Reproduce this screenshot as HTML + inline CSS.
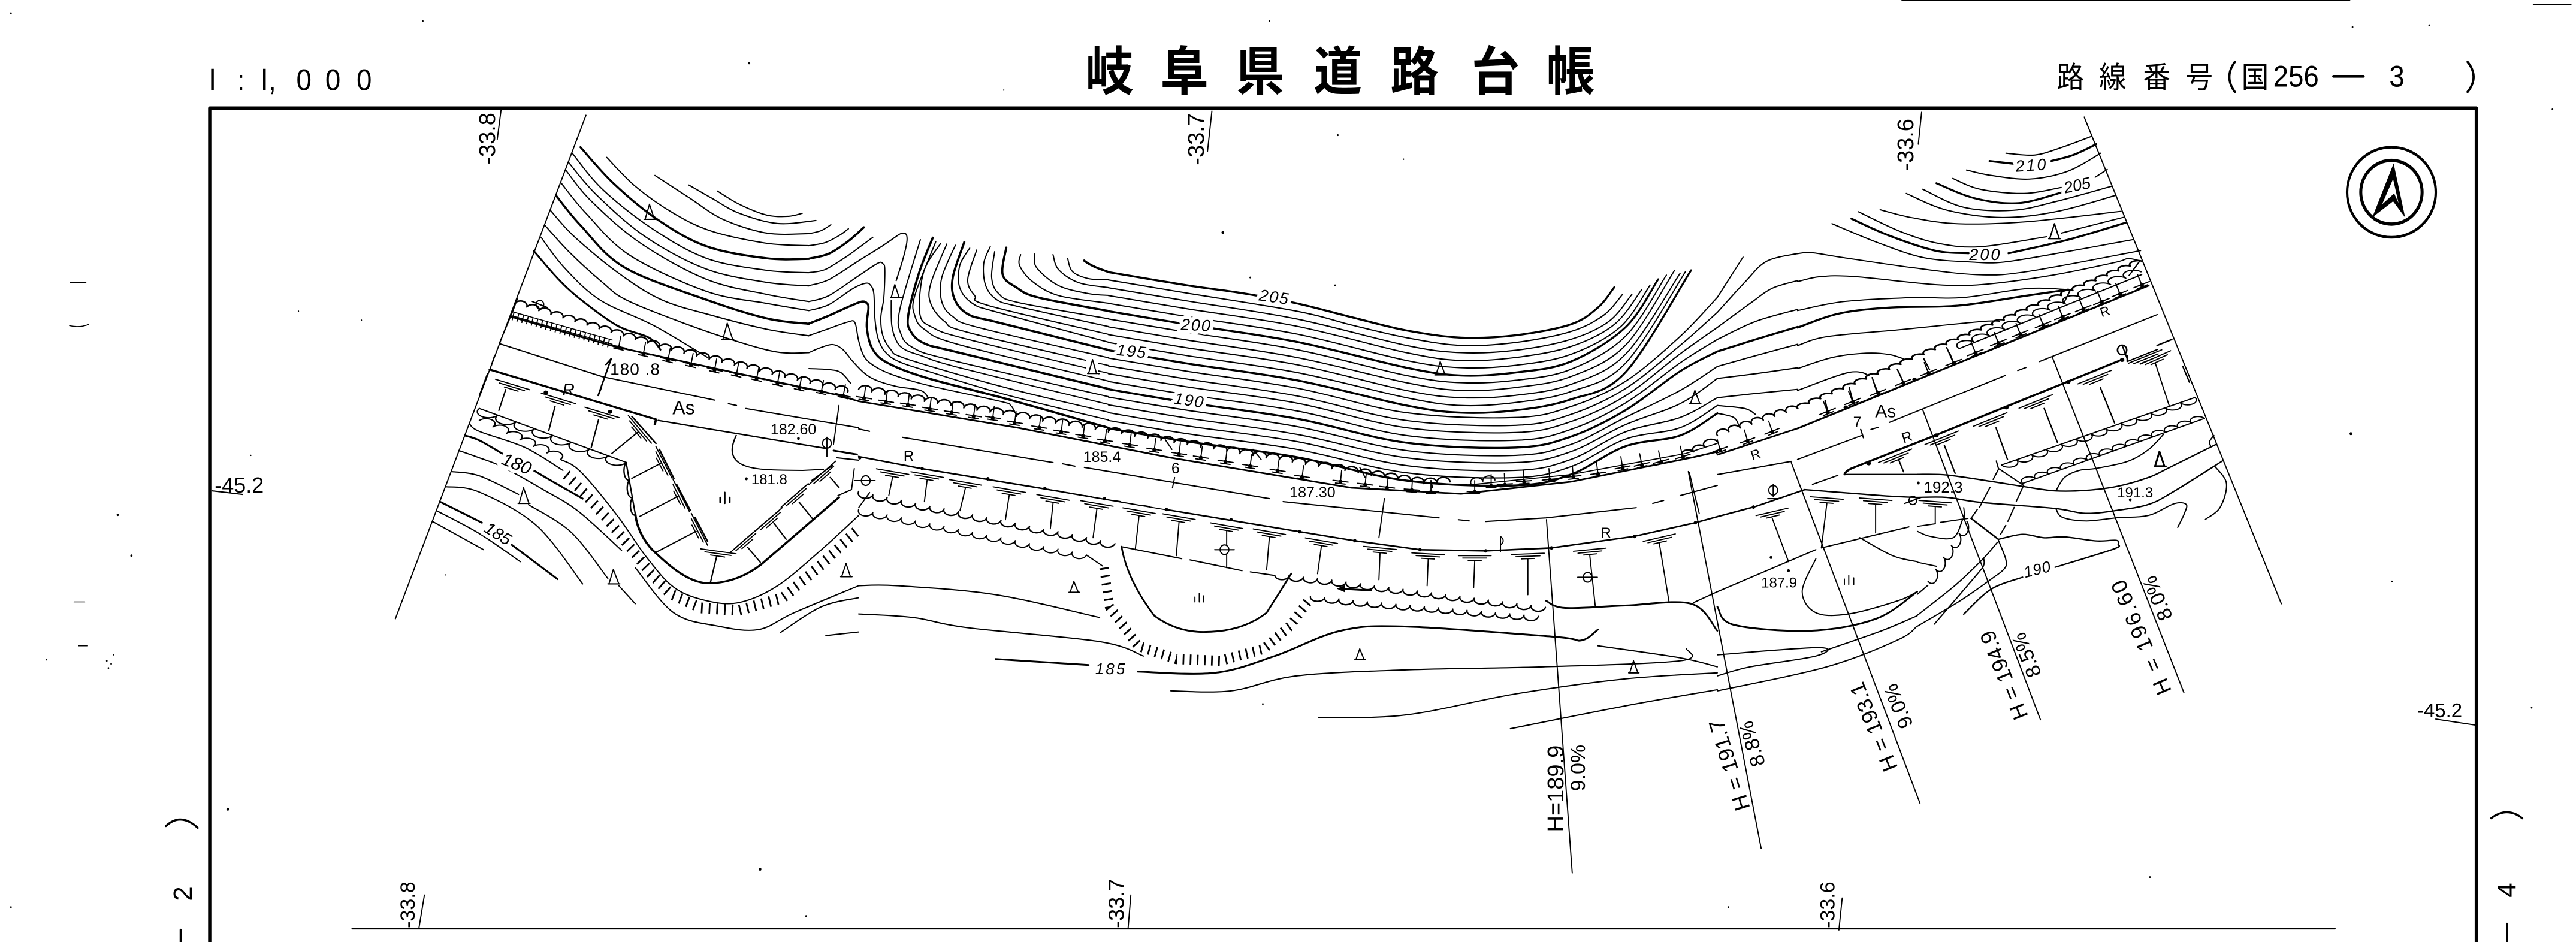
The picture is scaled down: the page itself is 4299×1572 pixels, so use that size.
<!DOCTYPE html>
<html><head><meta charset="utf-8"><style>
html,body{margin:0;padding:0;background:#fff;width:4299px;height:1572px;overflow:hidden}
svg{display:block}
text{font-family:"Liberation Sans","Noto Sans CJK JP",sans-serif;fill:#000;stroke:none}
.l{paint-order:stroke;stroke:#fff;stroke-width:12px;font-style:italic}
.f{stroke:none;fill:#000}
</style></head><body>
<svg xmlns="http://www.w3.org/2000/svg" width="4299" height="1572" viewBox="0 0 4299 1572">
<rect width="4299" height="1572" fill="#fff"/>
<defs>
<g id="t" fill="none" stroke="#000" stroke-width="1.9"><path d="M-30 0H30M-22 4H22M-12 8H12"/></g>
<g id="u" fill="none" stroke="#000" stroke-width="2"><path d="M0 -18V0M-14 0H14M-9 4H9"/><circle cx="0" cy="1" r="2.5" fill="#000"/></g>
</defs>
<g transform="scale(.9139,1.0025)" fill="none" stroke="#000" stroke-width="2.1" stroke-linejoin="round" stroke-linecap="round">

<!-- frame -->
<path d="M383 1575V180H4522V1575" stroke-width="6" stroke-linecap="butt"/>
<path d="M643 1546H4264" stroke-width="2.5"/>
<path d="M3473 1H4291M4626 8H4695" stroke-width="2"/>

<!-- ========== PANEL 1 ========== -->
<g>
<text x="388" y="150" font-size="52" text-anchor="middle">I</text>
<text x="440" y="150" font-size="48" text-anchor="middle">:</text>
<text x="490" y="150" font-size="52" text-anchor="middle">I,</text>
<text x="555" y="150" font-size="50" text-anchor="middle">0</text>
<text x="608" y="150" font-size="50" text-anchor="middle">0</text>
<text x="665" y="150" font-size="50" text-anchor="middle">0</text>

<path d="M915 183L908 232M387 817L443 823M775 1490L765 1545"/>
<text transform="translate(904,274) scale(1.094,.9975) rotate(-90)" font-size="38">-33.8</text>
<text transform="translate(757,1545) scale(1.094,.9975) rotate(-90)" font-size="34">-33.8</text>
<text transform="translate(392,820) scale(1.094,.9975)" font-size="36">-45.2</text>

<path d="M303 1375Q330 1352 361 1378" stroke-width="3.5"/>
<text transform="translate(350,1500) scale(1.094,.9975) rotate(-90)" font-size="44">2</text>
<path d="M330 1548V1575" stroke-width="4"/>
<path d="M128 470H157M127 542Q145 546 162 540M135 1002H155M143 1075H160" stroke-width="1.6"/>

<!-- boundary -->
<path d="M1070 192L722 1030"/>

<!-- upper-left hill contours -->
<g class="s">
<path d="M1310 318L1350 340 1400 358 1440 360 1465 355"/>
<path d="M1258 308L1300 330 1350 355 1420 372 1490 367"/>
<path d="M1196 292L1260 330 1320 365 1400 388 1477 389"/>
<path d="M1108 262L1160 310 1230 355 1300 385 1400 405 1477 409"/>
<path d="M1060 245L1120 305 1200 365 1290 410 1400 430 1477 431" stroke-width="3.6"/>
<path d="M1045 255L1100 315 1190 380 1290 430 1400 450 1477 454"/>
<path d="M1038 270L1090 325 1180 395 1290 448 1400 470 1477 476"/>
<path d="M1033 283L1080 335 1170 405 1290 465 1400 490 1477 502"/>
<path d="M1025 305L1070 355 1150 425 1290 485 1400 505 1477 517"/>
<path d="M1015 325L1060 375 1140 445 1290 499 1400 530 1477 539" stroke-width="3.6"/>
<path d="M1005 350L1050 395 1130 455 1208 499 1300 525 1400 548 1477 559"/>
<path d="M995 375L1040 420 1100 470 1143 499 1240 535 1338 566 1419 586 1477 587"/>
<path d="M988 395L1030 445 1095 499 1194 542 1294 596"/>
<path d="M975 418L1020 465 1061 499 1127 542 1185 562 1206 582" stroke-width="3.2"/>

<!-- lower-left contours -->
<path d="M857 705L875 718 959 745 1028 783"/>
<path d="M849 725L875 733 917 755M965 778L1010 802 1064 830" stroke-width="3.2"/>
<path d="M838 750L875 762 917 777 992 815 1056 851 1135 916"/>
<path d="M824 785L875 792 947 823M965 840L1043 886 1110 963M1130 975L1160 1005"/>
<path d="M813 810L875 819 980 875 1064 972"/>
<path d="M803 835L880 870M917 895L1018 964" stroke-width="3.2"/>
<path d="M797 850L875 888 950 935"/>
<path d="M790 868L883 915"/>
<path d="M1160 945L1230 1020 1310 1042 1385 1048 1450 1020 1568 975"/>
<path d="M1024 765L1060 785 1127 858 1181 928 1231 978 1290 1000 1350 1003 1420 975 1500 915 1568 858"/>
<path d="M1425 1053L1500 1010 1568 995M1508 1058L1568 1052"/>
</g>

<!-- top scallop and hatched band -->
<path d="M940 505a12 8 0 0 1 22 6a12 8 0 0 1 22 6a12 8 0 0 1 22 6a12 8 0 0 1 22 6a12 8 0 0 1 22 6a12 8 0 0 1 22 6a12 8 0 0 1 22 6a12 8 0 0 1 22 6a12 8 0 0 1 22 6a12 8 0 0 1 22 6a12 8 0 0 1 22 6a12 8 0 0 1 22 6a12 8 0 0 1 22 6a12 8 0 0 1 23 5a12 8 0 0 1 23 5a12 8 0 0 1 23 5a12 8 0 0 1 23 5a12 8 0 0 1 23 5a12 8 0 0 1 23 5a12 8 0 0 1 23 5a12 8 0 0 1 23 5a12 8 0 0 1 23 5a12 8 0 0 1 23 5a12 8 0 0 1 23 5a12 8 0 0 1 23 5a12 8 0 0 1 23 5a12 8 0 0 1 23 5" stroke-width="2.6"/>
<path d="M932 527L1123 577 1532 658 1568 668" stroke-width="2.8"/>
<path d="M936 526L1118 573" stroke-width="14" stroke-dasharray="2 7" stroke-linecap="butt"/>
<path d="M936 519L1118 566M936 526L1118 573" stroke-width="1.6"/>
<path d="M945 497L936 519L912 571"/>
<circle cx="986" cy="507" r="7"/><path d="M972 502L1000 512"/>

<use href="#u" transform="translate(1130,577) rotate(12)"/><use href="#u" transform="translate(1175,588) rotate(12)"/><use href="#u" transform="translate(1220,598) rotate(12)"/><use href="#u" transform="translate(1262,606) rotate(12)"/><use href="#u" transform="translate(1305,615) rotate(12)"/><use href="#u" transform="translate(1345,622) rotate(12)"/><use href="#u" transform="translate(1382,629) rotate(12)"/><use href="#u" transform="translate(1420,637) rotate(12)"/><use href="#u" transform="translate(1460,645) rotate(12)"/><use href="#u" transform="translate(1500,651) rotate(12)"/><use href="#u" transform="translate(1540,658) rotate(12)"/>

<!-- road remaining -->
<path d="M912 572L1100 627 1305 666M1330 672L1345 675M1362 680L1568 712"/>
<path d="M1522 750L1568 757" stroke-width="3"/>
<path d="M1528 762L1568 766M1530 825L1555 815M1560 780L1555 815"/>
<!-- cut hatch -->
<path d="M1034 790L1072 826 1110 865 1148 908 1189 955 1223 988 1280 1012 1350 1016 1430 995 1500 940 1568 880" stroke-width="18" stroke-dasharray="3 11" stroke-linecap="butt"/>

<!-- arrows and marks -->
<path d="M1532 675L1522 740"/>
<circle cx="1510" cy="738" r="8"/><path d="M1510 728V760"/>
<path d="M1186 340L1178 365M1186 340L1195 365M1176 365H1197M1328 538L1320 565M1328 538L1338 565M1318 565H1340M956 812L948 838M956 812L966 838M946 838H968M1120 948L1112 972M1120 948L1130 972M1110 972H1132M1545 938L1537 960M1545 938L1553 960M1535 960H1556"/>

<text transform="translate(1114,624) scale(1.094,.9975)" font-size="28" letter-spacing="1">180 .8</text>
<text transform="translate(1228,690) scale(1.094,.9975)" font-size="32">As</text>
<text transform="translate(1407,723) scale(1.094,.9975)" font-size="25">182.60</text>
<text transform="translate(1372,806) scale(1.094,.9975)" font-size="24">181.8</text>
<text transform="translate(1027,658) scale(1.094,.9975)" font-size="28" font-style="italic">R</text>
<text class="l" transform="translate(914,772) scale(1.094,.9975) rotate(22)" font-size="30">180</text>
<text class="l" transform="translate(882,884) scale(1.094,.9975) rotate(32)" font-size="28">185</text>
<circle cx="1363" cy="797" r="2.5" class="f"/><circle cx="1458" cy="730" r="2.5" class="f"/>
<g class="f"><circle cx="20" cy="22" r="1.5"/><circle cx="772" cy="35" r="1.5"/><circle cx="1368" cy="105" r="2"/><circle cx="215" cy="857" r="2"/><circle cx="240" cy="925" r="2"/><circle cx="416" cy="1347" r="2.5"/><circle cx="1388" cy="1447" r="2.5"/><circle cx="1472" cy="1525" r="1.5"/><circle cx="85" cy="1098" r="1.5"/><circle cx="20" cy="1510" r="1.5"/><circle cx="195" cy="1100" r="1.5"/><circle cx="203" cy="1105" r="1.5"/><circle cx="198" cy="1112" r="1.5"/><circle cx="207" cy="1090" r="1.2"/><circle cx="545" cy="518" r="1.2"/><circle cx="660" cy="533" r="1.2"/><circle cx="458" cy="758" r="1.2"/><circle cx="813" cy="957" r="1.2"/></g>
</g>

<!-- ========== PANEL 2 ========== -->
<g transform="translate(1568,0)">
<g font-size="88" font-weight="700" text-anchor="middle">
<text x="458" y="150">岐</text><text x="595" y="150">阜</text><text x="733" y="150">県</text><text x="875" y="150">道</text><text x="1015" y="150">路</text><text x="1163" y="150">台</text><text x="1300" y="150">帳</text>
</g>
<path d="M645 185L637 252M497 1490L492 1545"/>
<text transform="translate(630,275) scale(1.094,.9975) rotate(-90)" font-size="38">-33.7</text>
<text transform="translate(484,1545) scale(1.094,.9975) rotate(-90)" font-size="36">-33.7</text>

<!-- central family tails -->
<g class="s">
<path d="M456 453L600 475 700 488 800 505 900 528 1000 550 1100 562 1200 558 1300 540 1350 512 1380 478" stroke-width="3.4"/>
<path d="M456 466L600 488 800 518 900 541 1000 562 1100 575 1200 570 1300 552 1360 525 1395 490"/>
<path d="M456 479L600 501 800 531 1000 575 1100 587 1200 583 1300 565 1370 535 1412 490"/>
<path d="M456 492L600 514 800 543 1000 587 1100 600 1200 595 1300 577 1380 540 1430 482"/>
<path d="M456 505L600 527 800 556 1000 600 1100 612 1200 608 1300 590 1390 545 1445 475"/>
<path d="M456 518L600 540 800 569 1000 612 1100 625 1200 620 1300 602 1400 545 1460 465" stroke-width="3.4"/>
<path d="M456 531L600 553 800 582 1000 625 1100 637 1200 633 1300 615 1400 560 1475 458"/>
<path d="M456 544L600 566 800 595 1000 637 1100 650 1200 645 1300 627 1400 575 1490 450"/>
<path d="M456 557L600 579 800 607 1000 650 1100 662 1200 658 1300 640 1400 590 1500 455"/>
<path d="M456 570L600 592 800 620 1000 662 1100 675 1200 670 1300 652 1400 605 1510 452"/>
<path d="M456 583L600 605 800 633 1000 675 1100 687 1200 683 1300 665 1400 620 1520 450" stroke-width="3.4"/>
<path d="M456 596L600 618 800 646 1000 687 1200 695 1300 677 1400 635 1500 560 1568 495"/>
<path d="M456 609L600 631 800 659 1000 700 1200 708 1300 690 1400 647 1500 575 1568 520"/>
<path d="M456 622L600 644 800 671 1000 712 1200 720 1300 702 1400 659 1500 589 1568 545"/>
<path d="M456 635L600 657 800 684 1000 725 1200 733 1300 715 1400 671 1500 604 1568 565"/>
<path d="M456 648L600 670 800 697 1000 737 1200 745 1300 727 1400 683 1500 618 1568 585" stroke-width="3.4"/>
<path d="M456 661L600 683 800 710 1000 750 1200 758 1300 740 1400 695 1500 650 1568 610"/>
<path d="M456 674L600 696 800 723 1000 762 1200 770 1300 752 1400 707 1500 672 1568 630"/>
<path d="M456 687L600 709 800 735 1000 775 1200 783 1300 765 1400 719 1500 695 1568 662"/>
<path d="M456 700L600 722 800 748 1000 787 1200 795 1300 777 1400 731 1500 712 1568 675"/>
<path d="M456 713L600 735 800 761 1000 800 1200 808 1300 790 1400 743 1500 725 1568 688" stroke-width="3.4"/>
</g>

<text class="l" transform="translate(730,500) scale(1.094,.9975) rotate(8)" font-size="27" letter-spacing="2">205</text>
<text class="l" transform="translate(588,549) scale(1.094,.9975) rotate(3)" font-size="27" letter-spacing="2">200</text>
<text class="l" transform="translate(470,591) scale(1.094,.9975) rotate(6)" font-size="27" letter-spacing="2">195</text>
<text class="l" transform="translate(575,672) scale(1.094,.9975) rotate(8)" font-size="27" letter-spacing="2">190</text>

<path d="M428 600L420 622M428 600L437 622M418 622H439M1062 602L1054 624M1062 602L1071 624M1052 624H1073M1527 650L1519 672M1527 650L1536 672M1517 672H1538M393 968L386 986M393 968L401 986M384 986H403M915 1080L908 1098M915 1080L923 1098M906 1098H925M1415 1100L1408 1120M1415 1100L1423 1120M1406 1120H1425"/>

<!-- upper scallop -->
<path d="M0 648a12 8 0 0 1 24 4a12 8 0 0 1 24 4a12 8 0 0 1 24 4a12 8 0 0 1 24 4a12 8 0 0 1 24 4a12 8 0 0 1 24 4a12 8 0 0 1 24 3a12 8 0 0 1 24 4a12 8 0 0 1 24 4a12 8 0 0 1 24 3a12 8 0 0 1 24 4a12 8 0 0 1 24 3a12 8 0 0 1 24 4a12 8 0 0 1 24 4a12 8 0 0 1 24 3a12 8 0 0 1 24 4a12 8 0 0 1 24 3a12 8 0 0 1 24 4a12 8 0 0 1 24 4a12 8 0 0 1 24 3a12 8 0 0 1 24 4a12 8 0 0 1 24 3a12 8 0 0 1 24 4a12 8 0 0 1 24 4a12 8 0 0 1 24 3a12 8 0 0 1 24 4a12 8 0 0 1 24 3a12 8 0 0 1 24 4a12 8 0 0 1 24 4a12 8 0 0 1 24 3a12 8 0 0 1 24 4a12 8 0 0 1 24 3a12 8 0 0 1 24 4a12 8 0 0 1 24 4a12 8 0 0 1 24 3a12 8 0 0 1 24 4a12 8 0 0 1 24 3a12 8 0 0 1 24 4a12 8 0 0 1 24 4a12 8 0 0 1 24 3a12 8 0 0 1 24 4a12 8 0 0 1 24 3a12 8 0 0 1 24 4a12 8 0 0 1 24 -2a12 8 0 0 1 24 -1" stroke-width="2.6"/>
<path d="M1118 805a10 7 0 0 1 22 -4a10 7 0 0 1 22 -2"/>
<path d="M1105 808L1300 790 1510 755 1568 738" stroke-width="1.8"/>
<path d="M1505 760a10 6 0 0 1 20 -8a10 6 0 0 1 20 -8a10 6 0 0 1 23 -9" stroke-width="2.6"/>
<path d="M560 732L572 748M720 748L735 765M915 778L925 795M1045 800L1048 812"/>

<use href="#u" transform="translate(10,662) rotate(8)"/><use href="#u" transform="translate(50,668) rotate(8)"/><use href="#u" transform="translate(90,673) rotate(8)"/><use href="#u" transform="translate(130,680) rotate(8)"/><use href="#u" transform="translate(170,686) rotate(8)"/><use href="#u" transform="translate(210,692) rotate(8)"/><use href="#u" transform="translate(245,695) rotate(8)"/><use href="#u" transform="translate(285,703) rotate(8)"/><use href="#u" transform="translate(330,711) rotate(8)"/><use href="#u" transform="translate(370,718) rotate(8)"/><use href="#u" transform="translate(410,725) rotate(8)"/><use href="#u" transform="translate(450,733) rotate(8)"/><use href="#u" transform="translate(495,740) rotate(8)"/><use href="#u" transform="translate(540,748) rotate(8)"/><use href="#u" transform="translate(585,755) rotate(8)"/><use href="#u" transform="translate(625,761) rotate(8)"/><use href="#u" transform="translate(670,768) rotate(8)"/><use href="#u" transform="translate(715,775) rotate(8)"/><use href="#u" transform="translate(765,783) rotate(8)"/><use href="#u" transform="translate(810,793) rotate(8)"/><use href="#u" transform="translate(880,801) rotate(6)"/><use href="#u" transform="translate(925,806) rotate(6)"/><use href="#u" transform="translate(965,811) rotate(6)"/><use href="#u" transform="translate(1010,815) rotate(4)"/><use href="#u" transform="translate(1045,818)"/><use href="#u" transform="translate(1125,818)"/><use href="#u" transform="translate(1155,808)"/><use href="#u" transform="translate(1180,806) rotate(-3)"/><use href="#u" transform="translate(1215,801) rotate(-4)"/><use href="#u" transform="translate(1262,798) rotate(-5)"/><use href="#u" transform="translate(1305,793) rotate(-6)"/><use href="#u" transform="translate(1350,788) rotate(-8)"/><use href="#u" transform="translate(1395,778) rotate(-10)"/><use href="#u" transform="translate(1430,773) rotate(-12)"/><use href="#u" transform="translate(1465,768) rotate(-14)"/><use href="#u" transform="translate(1505,760) rotate(-16)"/>

<!-- road -->
<path d="M0 668L290 712 570 762 900 812 1100 822 1300 802 1520 762 1568 752" stroke-width="2.8"/>
<path d="M0 714L20 718M80 728L355 770M372 772L395 776M412 778L750 830M775 835L1060 862M1095 865L1115 867M1145 868L1255 862 1420 845M1450 838L1470 833M1500 825L1568 808"/>
<path d="M0 760L115 780 335 813 560 848 805 885 905 900 1025 915 1145 917 1265 912 1415 893 1528 870 1568 860" stroke-width="2.6"/>
<path d="M0 757L560 846" stroke-dasharray="40 14" stroke-width="3" stroke="#fff"/>
<circle cx="2" cy="762" r="3" class="f"/><circle cx="116" cy="780" r="3" class="f"/><circle cx="236" cy="797" r="3" class="f"/><circle cx="340" cy="813" r="3" class="f"/><circle cx="449" cy="830" r="3" class="f"/><circle cx="562" cy="848" r="3" class="f"/><circle cx="680" cy="865" r="3" class="f"/><circle cx="805" cy="885" r="3" class="f"/><circle cx="906" cy="900" r="3" class="f"/><circle cx="1025" cy="915" r="3" class="f"/><circle cx="1145" cy="917" r="3" class="f"/><circle cx="1265" cy="912" r="3" class="f"/><circle cx="1417" cy="893" r="3" class="f"/><circle cx="1528" cy="870" r="3" class="f"/>
<path d="M1172 918V893Q1182 900 1172 907"/>

<use href="#t" transform="translate(62,785) rotate(9)"/><use href="#t" transform="translate(125,790) rotate(9)"/><use href="#t" transform="translate(195,803) rotate(9)"/><use href="#t" transform="translate(275,815) rotate(9)"/><use href="#t" transform="translate(355,828) rotate(9)"/><use href="#t" transform="translate(435,838) rotate(9)"/><use href="#t" transform="translate(512,850) rotate(9)"/><use href="#t" transform="translate(585,860) rotate(9)"/><use href="#t" transform="translate(672,875) rotate(9)"/><use href="#t" transform="translate(750,885) rotate(9)"/><use href="#t" transform="translate(845,900) rotate(9)"/><use href="#t" transform="translate(952,912) rotate(5)"/><use href="#t" transform="translate(1040,922) rotate(3)"/><use href="#t" transform="translate(1125,925)"/><use href="#t" transform="translate(1222,922) rotate(-2)"/><use href="#t" transform="translate(1335,915) rotate(-5)"/><use href="#t" transform="translate(1462,895) rotate(-12)"/>
<path d="M62 794L55 825M125 799L120 835M195 812L185 850M275 824L268 865M355 837L350 880M435 847L428 895M512 859L505 915M585 869L580 925M672 884V945M750 894L745 948M845 909L838 955M952 921L950 965M1040 931L1038 975M1125 934L1123 978M1222 931V990M1335 924L1345 1008M1462 904L1480 1003"/>
<circle cx="13" cy="800" r="8" fill="#fff"/><path d="M-8 800H30"/>
<circle cx="668" cy="915" r="8" fill="#fff"/><path d="M650 915H686"/>
<circle cx="1331" cy="961" r="8" fill="#fff"/><path d="M1313 961H1349"/>
<path d="M0 845L20 820"/>

<!-- band lower edge -->
<path d="M0 818a13 8 0 0 0 26 6a13 8 0 0 0 26 4a13 8 0 0 0 26 5a13 8 0 0 0 26 5a13 8 0 0 0 26 5a13 8 0 0 0 26 4a13 8 0 0 0 26 5a13 8 0 0 0 26 5a13 8 0 0 0 26 5a13 8 0 0 0 26 4a13 8 0 0 0 26 5a13 8 0 0 0 26 5a13 8 0 0 0 26 5a13 8 0 0 0 26 4a13 8 0 0 0 26 5a13 8 0 0 0 26 5a13 8 0 0 0 26 5a13 8 0 0 0 26 5" stroke-width="2.4"/>
<path d="M0 848a13 8 0 0 0 26 5a13 8 0 0 0 26 4a13 8 0 0 0 26 5a13 8 0 0 0 26 5a13 8 0 0 0 26 5a13 8 0 0 0 26 4a13 8 0 0 0 26 5a13 8 0 0 0 26 5a13 8 0 0 0 26 5a13 8 0 0 0 26 4a13 8 0 0 0 26 5a13 8 0 0 0 26 5a13 8 0 0 0 26 5a13 8 0 0 0 26 4a13 8 0 0 0 26 5a13 8 0 0 0 26 5L445 942"/>
<path d="M480 910L590 930M605 932L700 950M715 952L760 958"/>
<path d="M760 958a13 7 0 0 0 26 0a13 8 0 0 0 26 3a13 8 0 0 0 26 2a13 8 0 0 0 26 3a13 8 0 0 0 26 3a13 8 0 0 0 26 3a13 8 0 0 0 26 3a13 8 0 0 0 26 3a13 8 0 0 0 26 3a13 8 0 0 0 26 3a13 8 0 0 0 26 3a13 8 0 0 0 26 3a13 8 0 0 0 26 3a13 8 0 0 0 26 3a13 8 0 0 0 26 3a13 8 0 0 0 26 3a13 8 0 0 0 26 3a13 8 0 0 0 26 3a13 8 0 0 0 26 3" stroke-width="2.4"/>
<path d="M825 993a13 7 0 0 0 26 2a13 8 0 0 0 26 2a13 8 0 0 0 26 3a13 8 0 0 0 26 2a13 8 0 0 0 26 2a13 8 0 0 0 26 2a13 8 0 0 0 26 2a13 8 0 0 0 26 2a13 8 0 0 0 26 2a13 8 0 0 0 26 2a13 8 0 0 0 26 2a13 8 0 0 0 26 2a13 8 0 0 0 26 2a13 8 0 0 0 26 2a13 8 0 0 0 26 2a13 8 0 0 0 26 2" stroke-width="2.4"/>
<path d="M480 910Q490 965 540 1025Q580 1052 630 1052Q700 1052 745 1020L790 955" stroke-width="3"/>
<path d="M448 945L458 1010 510 1075 580 1097 660 1100 740 1080 790 1040 825 995" stroke-width="17" stroke-dasharray="3 10" stroke-linecap="butt"/>
<g class="s">
<path d="M0 975L70 975 250 990 440 1028"/>
<path d="M0 1022L100 1028 200 1045 440 1068 520 1092"/>
<path d="M510 1118L650 1120 760 1092 880 1050 1000 1043 1270 1060 1320 1066 1350 1048" stroke-width="3"/>
<path d="M570 1150L680 1150 800 1125 1000 1115 1250 1110 1500 1100 1512 1080"/>
<path d="M840 1195L1000 1190 1200 1155 1400 1130 1568 1120"/>
<path d="M1190 1213L1400 1175 1568 1148"/>
<path d="M1255 1000L1290 1012 1400 1008 1520 1005 1568 1050" stroke-width="3"/>
<path d="M1350 1075L1500 1095 1568 1110"/>
</g>
<path d="M250 1097L420 1107" stroke-width="3"/>
<path d="M1525 1003L1568 985"/>
<path class="f" d="M873 980L888 974 888 986Z"/><path d="M880 980L936 983" stroke-width="3"/>
<path d="M622 988V1002M614 994V1002M630 992V1002"/>

<!-- section lines -->
<path d="M1256 865L1303 1453"/>
<path d="M1515 785L1648 1412"/>
<path d="M960 830L950 895M1517 787L1535 855"/>

<text transform="translate(410,769) scale(1.094,.9975)" font-size="25">185.4</text>
<text transform="translate(571,788) scale(1.094,.9975)" font-size="25">6</text><path d="M577 795L573 812"/>
<text transform="translate(787,828) scale(1.094,.9975)" font-size="25">187.30</text>
<text transform="translate(82,767) scale(1.094,.9975)" font-size="24">R</text>
<text transform="translate(1355,895) scale(1.094,.9975)" font-size="24">R</text>
<text class="l" transform="translate(432,1122) scale(1.094,.9975)" font-size="26" letter-spacing="3">185</text>
<text transform="translate(1287,1385) scale(1.094,.9975) rotate(-90)" font-size="38">H=189.9</text>
<text transform="translate(1326,1317) scale(1.094,.9975) rotate(-90)" font-size="34">9.0%</text>
<g class="f"><circle cx="665" cy="387" r="2.5"/><circle cx="870" cy="475" r="1.5"/><circle cx="715" cy="462" r="1.5"/><circle cx="738" cy="1172" r="1.5"/><circle cx="875" cy="225" r="1.5"/><circle cx="750" cy="35" r="1.5"/><circle cx="265" cy="150" r="1.2"/><circle cx="995" cy="265" r="1.2"/></g>
</g>

<!-- ========== PANEL 3 ========== -->
<g transform="translate(3136,0)">
<g font-size="50" text-anchor="middle">
<text x="645" y="146">路</text><text x="722" y="146">線</text><text x="802" y="146">番</text><text x="880" y="146">号</text>
<text x="982" y="146">国</text>
</g>
<path d="M945 103Q925 128 945 153M1370 103Q1392 128 1370 153" stroke-width="4"/>
<text x="1015" y="144" font-size="50">256</text>
<path d="M1125 127H1180" stroke-width="4.5"/>
<text x="1241" y="144" font-size="50" text-anchor="middle">3</text>

<path d="M373 187L367 240M1312 1197L1384 1207M228 1495L222 1548"/>
<text transform="translate(358,284) scale(1.094,.9975) rotate(-90)" font-size="38">-33.6</text>
<text transform="translate(214,1545) scale(1.094,.9975) rotate(-90)" font-size="34">-33.6</text>
<text transform="translate(1278,1194) scale(1.094,.9975)" font-size="33">-45.2</text>

<path d="M1413 1362Q1442 1342 1470 1362" stroke-width="3.5"/>
<text transform="translate(1458,1494) scale(1.094,.9975) rotate(-90)" font-size="44">4</text>
<path d="M1442 1538V1568" stroke-width="4"/>

<!-- north -->
<ellipse cx="1231" cy="320" rx="81" ry="75" stroke-width="4.5"/>
<ellipse cx="1231" cy="320" rx="56" ry="53" stroke-width="5.5"/>
<path class="f" d="M1235 272L1196 362 1234 335 1256 362Z"/>
<path d="M1234 298L1214 340 1236 322 1244 338Z" fill="#fff" stroke="none"/>

<!-- boundary -->
<path d="M670 195L1030 1005"/>

<!-- upper right contours -->
<g class="s">
<path d="M527 255L580 258 630 245 683 227"/>
<path d="M497 268L545 273M610 268L650 258 692 240" stroke-width="3.4"/>
<path d="M455 283L500 292 570 298 640 285 700 255"/>
<path d="M430 297L480 315 560 322 628 312M690 295L712 282"/>
<path d="M400 305L470 330 550 338 630 320" stroke-width="3.2"/>
<path d="M375 315L450 345 540 350 620 335 720 310"/>
<path d="M345 322L420 350 520 362 620 352 728 325"/>
<!-- lines from lower hill left of traced area -->
<path d="M0 495L47 428"/>
<path d="M0 520L50 470 90 435 147 422"/>
<path d="M0 545L60 505 100 480 147 467"/>
<path d="M0 565L70 535 147 515"/>
<path d="M0 585L70 565 147 544" stroke-width="3.4"/>
<path d="M0 610L70 592 147 573"/>
<path d="M0 630L70 622 147 612"/>
<path d="M0 662L70 655 147 648"/>
<path d="M0 675L50 680 70 690"/>
<path d="M0 688L30 695 40 710"/>
</g>
<text class="l" transform="translate(545,286) scale(1.094,.9975) rotate(-4)" font-size="27" letter-spacing="3">210</text>
<text class="l" transform="translate(635,322) scale(1.094,.9975) rotate(-12)" font-size="27">205</text>
<text transform="translate(460,433) scale(1.094,.9975)" font-size="27" letter-spacing="3" font-style="italic">200</text>
<path d="M808 752L800 776M808 752L817 776M798 776H820"/>

<!-- left scallop stub and road stub -->
<path d="M0 725a11 7 0 0 1 21 -6.4a11 7 0 0 1 21 -6.4a11 7 0 0 1 21 -6.4a11 7 0 0 1 21 -6.4a11 7 0 0 1 21 -6.4a11 7 0 0 1 21 -6.4a11 7 0 0 1 21 -6.4" stroke-width="2.6"/>
<path d="M0 757L147 713" stroke-width="2.8"/>
<use href="#u" transform="translate(5,748) rotate(-18)"/><use href="#u" transform="translate(55,733) rotate(-18)"/><use href="#u" transform="translate(100,718) rotate(-20)"/>

<!-- road remaining -->
<path d="M0 790L135 768"/>
<path d="M0 860L70 843 160 815" stroke-width="2.6"/>
<path d="M803 575L830 565" stroke-width="2.6"/>
<circle cx="66" cy="844" r="3" class="f"/>
<circle cx="102" cy="816" r="8" fill="#fff"/><path d="M102 806V826M92 830H110"/>
<path d="M850 610L862 636" stroke-width="2.5"/>
<use href="#t" transform="translate(100,852) rotate(-12)"/><use href="#t" transform="translate(200,829) rotate(4)"/><use href="#t" transform="translate(289,831) rotate(4)"/><use href="#t" transform="translate(398,835) rotate(4)"/><use href="#t" transform="translate(800,595) rotate(-22)"/>
<path d="M100 862L130 935M200 838L190 912M289 840V887M398 844V872M450 845L452 862M800 605L825 675"/>
<circle cx="357" cy="833" r="7" fill="#fff"/><path d="M342 838L372 828"/>
<path d="M0 985L180 915M190 912L350 877"/>

<!-- low contours left of traced area -->
<g class="s">
<path d="M160 815L300 825 365 828" stroke-width="2.4"/>
<path d="M0 1010L30 1040 170 1050 290 1030 365 985" stroke-width="3"/>
<path d="M180 930L155 985 180 1020 240 1022 330 1000 365 985"/>
<path d="M260 895L320 925 365 935"/>
<path d="M0 1090L185 1078 180 1092 60 1110 0 1125"/>
<path d="M0 1150L200 1110 330 1065 365 1042"/>
<path d="M190 1085L300 1050 365 1025"/>
</g>
<path d="M240 958V973M232 964V973M249 962V973"/>

<!-- section lines -->
<path d="M135 770L370 1337M375 682L590 1198M612 595L852 1153"/>

<text transform="translate(288,695) scale(1.094,.9975)" font-size="30">As</text>
<text transform="translate(248,711) scale(1.094,.9975)" font-size="25">7</text>
<text transform="translate(64,766) scale(1.094,.9975) rotate(-18)" font-size="22">R</text>
<text transform="translate(340,738) scale(1.094,.9975) rotate(-18)" font-size="24">R</text>
<text transform="translate(702,528) scale(1.094,.9975) rotate(-18)" font-size="22">R</text>
<text transform="translate(377,820) scale(1.094,.9975)" font-size="26">192.3</text>
<text transform="translate(730,828) scale(1.094,.9975)" font-size="24">191.3</text>
<text transform="translate(80,978) scale(1.094,.9975)" font-size="24">187.9</text>
<text transform="translate(562,962) scale(1.094,.9975) rotate(-14)" font-size="26" font-style="italic" letter-spacing="1">190</text>
<g class="f"><circle cx="367" cy="804" r="2.5"/><circle cx="754" cy="832" r="2.5"/><circle cx="130" cy="950" r="2.5"/><circle cx="98" cy="928" r="2.5"/><circle cx="1157" cy="722" r="2.5"/><circle cx="1525" cy="182" r="1.5"/><circle cx="1160" cy="45" r="1.5"/><circle cx="1300" cy="42" r="1.5"/><circle cx="1232" cy="968" r="1.5"/><circle cx="1487" cy="1178" r="1.5"/><circle cx="790" cy="1460" r="1.5"/><circle cx="20" cy="1510" r="1.5"/></g>

<text transform="translate(60,1345) scale(1.094,.9975) rotate(-107)" font-size="36">H = 191.7</text>
<text transform="translate(88,1272) scale(1.094,.9975) rotate(-107)" font-size="34">8.8%</text>
<text transform="translate(330,1278) scale(1.094,.9975) rotate(-112)" font-size="36">H = 193.1</text>
<text transform="translate(358,1207) scale(1.094,.9975) rotate(-112)" font-size="34">9.0%</text>
<text transform="translate(568,1192) scale(1.094,.9975) rotate(-112)" font-size="36">H = 194.9</text>
<text transform="translate(592,1122) scale(1.094,.9975) rotate(-112)" font-size="34">8.5%</text>
<text transform="translate(830,1150) scale(1.094,.9975) rotate(-113)" font-size="36" letter-spacing="3">H = 196.60</text>
<text transform="translate(832,1027) scale(1.094,.9975) rotate(-113)" font-size="34">8.0%</text>
</g>
</g>

<!-- ===== Traced: peak (real 1350,330) ===== -->
<g class="s" transform="translate(1350,330) scale(.3333)" fill="none" stroke="#000" stroke-width="6" stroke-linejoin="round" stroke-linecap="round">
<path d="M0 180L60 165 110 135"/>
<path d="M0 240L80 225 150 190 198 155"/>
<path d="M0 305L100 280 200 215 275 148" stroke-width="11"/>
<path d="M0 375L80 360 180 300 250 250 320 198"/>
<path d="M0 440L100 410 250 315 370 240 450 185 470 178 488 185 490 225 470 310 437 415"/>
<path d="M412 515L415 640 440 720 480 760 560 790 750 850 1500 1035"/>
<path d="M0 520L100 490 250 390 345 328 370 330 380 360 375 500 360 600 370 690 410 760 470 800 800 900 1100 980 1500 1074"/>
<path d="M0 565L100 535 220 455 285 428 310 440 325 480 330 600 345 700 380 770 450 820 600 870 1000 990 1500 1113"/>
<path d="M0 630L100 590 200 545 265 520 292 530 298 555 290 650 320 760 400 830 600 905 1000 1010 1500 1152" stroke-width="11"/>
<path d="M0 690L100 655 195 622 230 625 250 720 280 800 340 850 430 890 600 940 960 1020 1010 1040 1035 1080"/>
<path d="M0 775L60 750 120 735 170 760 220 820 280 880 340 915 440 945 560 965 600 1005"/>
<path d="M0 855L100 860 160 875 210 930"/>
<path d="M1378 315L1400 330 1440 350 1500 372" stroke-width="11"/>
<path d="M1295 303L1320 370 1400 405 1500 411"/>
<path d="M1222 285L1250 360 1350 425 1500 450"/>
<path d="M1130 282L1140 350 1250 440 1400 480 1500 489"/>
<path d="M1060 285L1055 340 1120 420 1250 490 1500 528"/>
<path d="M988 250L970 385 1040 450 1150 500 1500 567" stroke-width="11"/>
<path d="M930 270L915 400 950 480 1050 525 1500 606"/>
<path d="M908 245L875 330 885 440 940 510 1050 545 1500 645"/>
<path d="M840 262L795 410 830 490 900 540 1500 684"/>
<path d="M805 252L755 340 755 450 820 530 950 575 1500 723"/>
<path d="M778 222L720 400 730 510 800 585 950 625 1500 762" stroke-width="11"/>
<path d="M733 238L665 400 665 520 720 595 850 650 1500 801"/>
<path d="M690 232L610 430 610 530 680 620 800 675 1500 840"/>
<path d="M660 228L575 370 555 580 620 650 800 710 1500 879"/>
<path d="M635 220L530 490 530 590 580 660 750 735 1500 918"/>
<path d="M620 200L550 380 497 590 510 670 580 730 750 775 1500 957" stroke-width="11"/>
<path d="M558 210L455 560 460 680 520 750 700 810 1500 996"/>
</g>
<g transform="translate(1350,330) scale(.3333)" fill="none" stroke="#000" stroke-width="6" stroke-linecap="round">
<path d="M430 435L412 500M430 435L452 500M410 500H465" />
<rect x="1388" y="800" width="60" height="90" fill="#fff" stroke="none"/>
<path d="M1420 810L1400 880M1420 810L1440 880M1395 880H1445"/>
</g>

<!-- ===== Traced: road left (real 800,500) ===== -->
<g transform="translate(800,500) scale(.3827,.3333)" fill="none" stroke="#000" stroke-width="6" stroke-linejoin="round" stroke-linecap="round">
<path d="M65 285L52 330"/>
<path d="M45 350L770 600 765 625" stroke-width="10"/>
<path d="M780 605L1510 745" stroke-width="7"/>
<use href="#t" transform="translate(145,425) scale(2.613,3) rotate(17)"/>
<use href="#t" transform="translate(345,495) scale(2.613,3) rotate(17)"/>
<use href="#t" transform="translate(535,565) scale(2.613,3) rotate(17)"/>
<path d="M115 450L85 555M330 535L303 655M520 600L488 740"/>
<circle cx="290" cy="465" r="10" class="f"/><circle cx="570" cy="562" r="10" class="f"/>
<path d="M35 372L0 480"/>
<path d="M0 545L640 815"/>
<path d="M0 545a40 24 0 0 0 80 34a40 24 0 0 0 80 34a40 24 0 0 0 80 34a40 24 0 0 0 80 34a40 24 0 0 0 80 34a40 24 0 0 0 80 34a40 24 0 0 0 80 34a40 24 0 0 0 80 34"/>
<path d="M0 605a34 22 0 0 1 59 32.5a34 22 0 0 1 59 32.5a34 22 0 0 1 59 32.5a34 22 0 0 1 59 32.5a34 22 0 0 1 59 32.5a34 22 0 0 1 59 32.5"/>
<path d="M640 815L680 1075"/>
<path d="M640 815a20 48 0 0 0 14 88a20 48 0 0 0 14 88a20 48 0 0 0 14 88"/>
<path d="M680 1075C690 1170 740 1240 770 1270S900 1420 1000 1420S1180 1370 1230 1325L1568 990" stroke-width="10"/>
<path d="M665 585L770 720M785 750L848 895M860 925L920 1055M940 1090L995 1210" stroke-width="7"/>
<use href="#t" transform="translate(700,650) scale(2.613,3) rotate(50)"/>
<use href="#t" transform="translate(805,815) scale(2.613,3) rotate(63)"/>
<use href="#t" transform="translate(880,980) scale(2.613,3) rotate(63)"/>
<use href="#t" transform="translate(960,1150) scale(2.613,3) rotate(63)"/>
<path d="M578 770L695 660M665 895L790 820M700 1085L865 985M770 1265L945 1160"/>
<use href="#t" transform="translate(1042,1260) scale(2.613,3) rotate(8)"/>
<path d="M1035 1285L1008 1415"/>
<path d="M1115 1245L1195 1165M1220 1140L1305 1058M1325 1030L1425 930M1450 905L1540 830"/>
<use href="#t" transform="translate(1155,1205) scale(2.613,3) rotate(-41)"/>
<use href="#t" transform="translate(1262,1100) scale(2.613,3) rotate(-41)"/>
<use href="#t" transform="translate(1375,980) scale(2.613,3) rotate(-41)"/>
<use href="#t" transform="translate(1495,868) scale(2.613,3) rotate(-41)"/>
<path d="M1170 1240L1225 1315M1285 1120L1338 1200M1395 1015L1455 1100M1530 890L1568 940"/>
<path d="M1120 680C1100 730 1090 780 1130 815S1250 855 1410 855L1500 850"/>
<path d="M575 295L518 480M575 295L552 325M518 480L530 445" stroke-width="7"/>
<path d="M1050 1015V990M1070 1020V965M1092 1015V990" stroke-width="7"/>
</g>

<!-- ===== Traced: road right upper (real 3000,350) ===== -->
<g transform="translate(3000,350) scale(.3827,.3333)" fill="none" stroke="#000" stroke-width="6" stroke-linejoin="round" stroke-linecap="round">
<g class="s">
<path d="M235 45L400 130 600 205 745 218" stroke-width="10"/>
<path d="M920 218L1180 150 1430 65" stroke-width="10"/>
<path d="M150 70L350 165 550 240 760 262 900 262 1150 215 1460 150"/>
<path d="M265 10L450 110 620 170 800 185 1085 135"/>
<path d="M1150 117L1420 38"/>
<path d="M360 0L500 40 700 70 1000 60 1410 8"/>
<path d="M0 220L60 215 200 240 500 290 780 325 1000 310 1495 205"/>
<path d="M0 360L100 335 250 335 600 375 800 375 1100 330 1380 265 1440 245 1490 255"/>
<path d="M0 505L200 460 500 440 720 440 1000 395 1180 400"/>
<path d="M0 590L180 520 400 490 700 480 1000 430 1180 400" stroke-width="10"/>
<path d="M0 680L130 635 450 600 800 560 880 558"/>
<path d="M0 795L150 740 300 718 400 725 470 750"/>
<path d="M0 905L150 840 230 813 280 815 310 830"/>
</g>
<path d="M1120 70L1100 142M1120 70L1140 142M1095 145H1145"/>
<!-- wiggle -->
<path d="M0 995a36 20 0 0 1 50 -24.6a36 20 0 0 1 50 -24.6a36 20 0 0 1 50 -24.6a36 20 0 0 1 50 -24.6a36 20 0 0 1 50 -24.6a36 20 0 0 1 50 -24.6a36 20 0 0 1 50 -24.6a36 20 0 0 1 50 -24.6a36 20 0 0 1 50 -24.6a36 20 0 0 1 50 -24.6a36 20 0 0 1 50 -24.6a36 20 0 0 1 50 -24.6a36 20 0 0 1 50 -24.6a36 20 0 0 1 50 -24.6a36 20 0 0 1 50 -24.6a36 20 0 0 1 50 -24.6a36 20 0 0 1 50 -24.6a36 20 0 0 1 50 -24.6a36 20 0 0 1 50 -24.6a36 20 0 0 1 50 -24.6a36 20 0 0 1 50 -24.6a36 20 0 0 1 50 -24.6a36 20 0 0 1 50 -24.6a36 20 0 0 1 50 -24.6a36 20 0 0 1 50 -24.6a36 20 0 0 1 50 -24.6a36 20 0 0 1 50 -24.6a36 20 0 0 1 50 -24.6a36 20 0 0 1 50 -24.6a36 20 0 0 1 50 -24.6" stroke-width="8"/>
<path d="M705 695a36 20 0 0 1 66 -32a36 20 0 0 1 66 -32a36 20 0 0 1 66 -32a36 20 0 0 1 66 -32a36 20 0 0 1 66 -32a36 20 0 0 1 66 -32a36 20 0 0 1 66 -32a36 20 0 0 1 66 -32a36 20 0 0 1 66 -32a36 20 0 0 1 66 -32a36 20 0 0 1 66 -32a36 20 0 0 1 66 -32"/>
<path d="M705 695L1500 325M1190 400L1160 470M1490 260L1445 330"/>
<path d="M0 1095L1530 380" stroke-width="9"/>
<use href="#u" transform="translate(130,1010) scale(2.613,3) rotate(-22)"/><use href="#u" transform="translate(240,960) scale(2.613,3) rotate(-22)"/><use href="#u" transform="translate(350,915) scale(2.613,3) rotate(-22)"/><use href="#u" transform="translate(460,865) scale(2.613,3) rotate(-22)"/><use href="#u" transform="translate(570,815) scale(2.613,3) rotate(-22)"/><use href="#u" transform="translate(680,765) scale(2.613,3) rotate(-22)"/><use href="#u" transform="translate(775,715) scale(2.613,3) rotate(-22)"/><use href="#u" transform="translate(875,665) scale(2.613,3) rotate(-22)"/><use href="#u" transform="translate(970,620) scale(2.613,3) rotate(-22)"/><use href="#u" transform="translate(1070,575) scale(2.613,3) rotate(-22)"/><use href="#u" transform="translate(1155,535) scale(2.613,3) rotate(-22)"/><use href="#u" transform="translate(1245,495) scale(2.613,3) rotate(-22)"/><use href="#u" transform="translate(1325,460) scale(2.613,3) rotate(-22)"/><use href="#u" transform="translate(1405,420) scale(2.613,3) rotate(-22)"/><use href="#u" transform="translate(1500,375) scale(2.613,3) rotate(-22)"/>
<path d="M120 955L130 1005M225 890L240 955M325 840L345 910M435 800L460 860M550 745L575 800M650 690L675 755"/>
<!-- centre line -->
<path d="M0 1250L280 1130M275 1100L287 1142M320 1100L350 1090M400 1065L905 830M960 805L995 790M1055 760L1568 525"/>
<!-- road lower edge -->
<path d="M205 1325Q208 1310 235 1295L600 1130L1415 750" stroke-width="10"/>
<path d="M1437 730L1437 760L1568 700" />
<ellipse cx="1415" cy="702" rx="20" ry="24" stroke-width="7"/><path d="M1415 678L1437 745"/>
<circle cx="310" cy="1270" r="10" class="f"/><circle cx="605" cy="1130" r="10" class="f"/><circle cx="910" cy="990" r="10" class="f"/><circle cx="1180" cy="862" r="10" class="f"/><circle cx="1415" cy="752" r="10" class="f"/><circle cx="510" cy="850" r="10" class="f"/><circle cx="210" cy="990" r="10" class="f"/>
<use href="#t" transform="translate(425,1232) scale(2.613,3) rotate(-22)"/><use href="#t" transform="translate(628,1142) scale(2.613,3) rotate(-22)"/><use href="#t" transform="translate(840,1050) scale(2.613,3) rotate(-22)"/><use href="#t" transform="translate(1038,960) scale(2.613,3) rotate(-22)"/><use href="#t" transform="translate(1295,838) scale(2.613,3) rotate(-22)"/><use href="#t" transform="translate(1515,735) scale(2.613,3) rotate(-22)"/>
<path d="M440 1250L462 1312M640 1180L687 1320M865 1092L915 1250M1075 995L1133 1165M1320 890L1382 1068"/>
<path d="M65 1375L175 1330M205 1325L525 1325"/>
</g>

<!-- ===== Traced: road right lower (real 3200,650) ===== -->
<g transform="translate(3200,650) scale(.3508,.3333)" fill="none" stroke="#000" stroke-width="6" stroke-linejoin="round" stroke-linecap="round">
<g class="s">
<path d="M0 425L140 428 350 460 500 485 650 507 800 505 950 485 1100 440 1200 390 1420 275" stroke-width="7"/>
<path d="M0 540L140 540 300 565 650 595 800 620 950 605 1100 575 1220 510 1455 355" stroke-width="7"/>
<path d="M1395 285L1390 260 1410 230"/>
<path d="M1415 385L1470 470 1440 590 1370 650"/>
<path d="M660 600L690 640 800 658 950 642 1100 630 1220 572 1278 575 1270 620 1238 690"/>
<path d="M660 505L700 440 770 405 850 395 1000 360 1100 300 1170 225"/>
<path d="M385 750L500 725 600 742 700 738 850 758 945 755 955 775 930 800 655 890" stroke-width="7"/>
<path d="M500 940L350 1000 220 1125" stroke-width="7"/>
<path d="M385 755L420 850 415 895 350 950 200 1060 0 1185" stroke-width="6"/>
<path d="M380 765L310 850 180 980 0 1130"/>
<path d="M315 845L315 880 280 930 80 1175"/>
<path d="M0 710L60 735 170 742 215 650" stroke-width="6"/>
</g>
<path d="M1150 310L1130 380M1150 310L1172 380M1128 382H1172"/>
<path d="M400 378L1320 40"/>
<path d="M400 378a38 22 0 0 0 70.8 -26a38 22 0 0 0 70.8 -26a38 22 0 0 0 70.8 -26a38 22 0 0 0 70.8 -26a38 22 0 0 0 70.8 -26a38 22 0 0 0 70.8 -26a38 22 0 0 0 70.8 -26a38 22 0 0 0 70.8 -26a38 22 0 0 0 70.8 -26a38 22 0 0 0 70.8 -26a38 22 0 0 0 70.8 -26a38 22 0 0 0 70.8 -26a38 22 0 0 0 70.8 -26"/>
<path d="M500 470L1365 145"/>
<path d="M500 470a34 20 0 0 1 61.8 -23.2a34 20 0 0 1 61.8 -23.2a34 20 0 0 1 61.8 -23.2a34 20 0 0 1 61.8 -23.2a34 20 0 0 1 61.8 -23.2a34 20 0 0 1 61.8 -23.2a34 20 0 0 1 61.8 -23.2a34 20 0 0 1 61.8 -23.2a34 20 0 0 1 61.8 -23.2a34 20 0 0 1 61.8 -23.2a34 20 0 0 1 61.8 -23.2a34 20 0 0 1 61.8 -23.2a34 20 0 0 1 61.8 -23.2a34 20 0 0 1 61.8 -23.2"/>
<path d="M375 358L385 395 505 480"/>
<path d="M385 400L360 450M345 490L295 590M285 600L255 645M505 480L470 560M460 590L430 660M420 680L395 725"/>
<path d="M255 645L385 750" stroke-width="8"/>
<path d="M235 660a22 34 0 0 1 -37 60a22 34 0 0 1 -37 60a22 34 0 0 1 -37 60a22 34 0 0 1 -37 60a22 34 0 0 1 -37 60"/>
<path d="M0 1025L50 980"/>
<path d="M0 865L90 885M0 685L85 672M110 665L240 645"/>
</g>

</svg>
<script>
document.querySelectorAll('g.s path').forEach(function(p){
  var out='';
  p.getAttribute('d').split('M').slice(1).forEach(function(sub){
    var n=sub.replace(/L/g,' ').trim().split(/[\s,]+/).map(Number),P=[],i;
    for(i=0;i+1<n.length;i+=2)P.push([n[i],n[i+1]]);
    out+='M'+P[0][0]+' '+P[0][1];
    for(i=0;i<P.length-1;i++){
      var a=P[i-1]||P[i],b=P[i],c=P[i+1],d=P[i+2]||c;
      out+='C'+[b[0]+(c[0]-a[0])/6,b[1]+(c[1]-a[1])/6,c[0]-(d[0]-b[0])/6,c[1]-(d[1]-b[1])/6,c[0],c[1]].join(' ');
    }
  });
  p.setAttribute('d',out);
});
</script>
</body></html>
